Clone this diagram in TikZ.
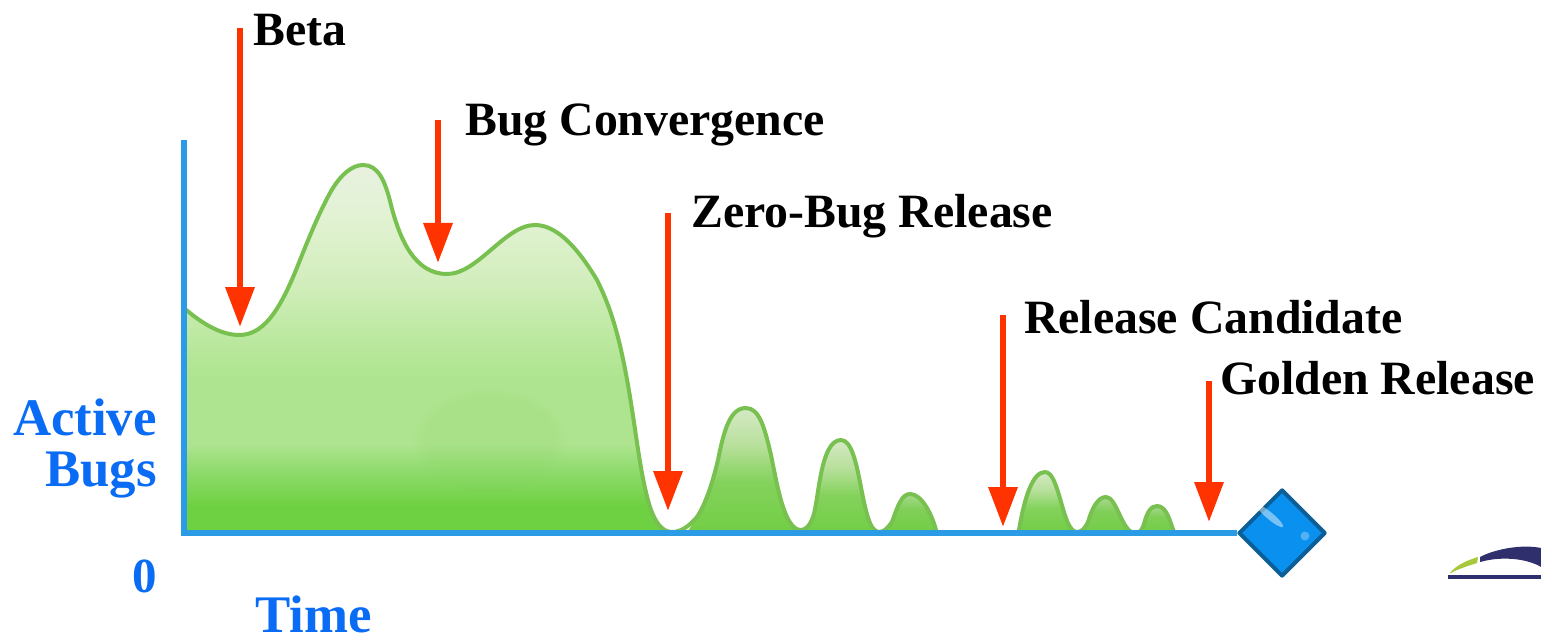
\documentclass[tikz,border=0pt]{standalone}
\usepackage{fontspec}
\setmainfont{Liberation Serif}
\usetikzlibrary{arrows.meta,shapes.geometric,fadings}
\definecolor{axisblue}{HTML}{2C9BE6}
\definecolor{labelblue}{HTML}{0A6CF5}
\definecolor{redarrow}{HTML}{FF3300}
\definecolor{curvegreen}{HTML}{78C050}
\definecolor{logonavy}{HTML}{2F2F6E}
\definecolor{logogreen}{HTML}{A8C83C}
\definecolor{diafill}{HTML}{0A90EE}
\definecolor{diaedge}{HTML}{0B5E96}
\definecolor{ma}{HTML}{6ED141}
\definecolor{mc}{HTML}{88D965}
\definecolor{me}{HTML}{AEE48F}
\definecolor{mf}{HTML}{BDE9A2}
\definecolor{mg}{HTML}{D4EEBF}
\definecolor{mh}{HTML}{E2F2D3}
\definecolor{mi}{HTML}{E8F1E0}
\definecolor{ha}{HTML}{72CE45}
\definecolor{hb}{HTML}{84D25C}
\definecolor{hc}{HTML}{B8E09C}
\definecolor{hd}{HTML}{D5E9C5}
\definecolor{le}{HTML}{80CF58}
\definecolor{lf}{HTML}{A8D890}
\definecolor{blob}{HTML}{8AD460}
\pgfdeclareverticalshading{mainshade}{100bp}{
  color(0bp)=(ma);color(25bp)=(ma);color(28.5bp)=(ma);color(32.5bp)=(mc);
  color(37bp)=(me);color(46bp)=(me);
  color(52bp)=(mf);color(60bp)=(mg);color(68bp)=(mh);color(75bp)=(mi);color(100bp)=(mi)}
\pgfdeclareverticalshading{hillshade}{100bp}{
  color(0bp)=(ha);color(25bp)=(ha);color(45bp)=(hb);
  color(60bp)=(hc);color(75bp)=(hd);color(100bp)=(hd)}
\pgfdeclareverticalshading{lowhill}{100bp}{
  color(0bp)=(ha);color(25bp)=(ha);color(55bp)=(le);
  color(75bp)=(lf);color(100bp)=(lf)}
\tikzset{
  blabel/.style={font=\fontsize{47.8}{50}\selectfont\bfseries,text=black,inner sep=0pt,anchor=base west},
  alabel/.style={font=\fontsize{52.8}{54}\selectfont\bfseries,text=labelblue,inner sep=0pt},
  marker/.style={draw=redarrow,line width=6.5pt,-{Triangle[width=28pt,length=40pt,color=redarrow]}},
  axisline/.style={draw=axisblue,line width=5.5pt,line join=miter},
  outline/.style={draw=curvegreen,line width=4pt,line cap=round,line join=round}
}
\newcommand\mainpart{(184,308) .. controls (200,322) and (220,335) .. (239,335)
  .. controls (262,335) and (278,314) .. (296,270)
  .. controls (308,240) and (318,215) .. (330,193)
  .. controls (340,175) and (352,165) .. (363,165)
  .. controls (378,165) and (385,180) .. (391,205)
  .. controls (400,240) and (415,274) .. (447,274)
  .. controls (478,274) and (505,225) .. (535,225)
  .. controls (560,225) and (582,255) .. (597,280)
  .. controls (612,310) and (620,340) .. (628,385)
  .. controls (636,430) and (640,475) .. (650,507)
  .. controls (655,522) and (662,532) .. (672,532)}
\newcommand\hillone{(697,517) .. controls (705,505) and (712,485) .. (718,460)
  .. controls (724,430) and (730,408) .. (746,408)
  .. controls (760,408) and (765,430) .. (771,455)
  .. controls (778,490) and (785,530) .. (801,530)}
\newcommand\hilltwo{(813,517) .. controls (819,500) and (820,440) .. (841,440)
  .. controls (862,440) and (860,532) .. (879,532)}
\newcommand\hillthree{(892,522) .. controls (898,505) and (902,494) .. (910,494)
  .. controls (922,494) and (932,515) .. (936,530)}
\newcommand\hillfour{(1019,530) .. controls (1024,500) and (1032,472) .. (1045,472)
  .. controls (1060,472) and (1062,532) .. (1077,532)}
\newcommand\hillfive{(1088,522) .. controls (1092,508) and (1098,497) .. (1106,497)
  .. controls (1117,497) and (1122,533) .. (1135,533)}
\newcommand\hillsix{(1144,524) .. controls (1147,512) and (1151,506) .. (1157,506)
  .. controls (1167,506) and (1170,522) .. (1174,532)}
\begin{document}
\begin{tikzpicture}[x=1pt,y=-1pt]
\useasboundingbox (0,0) rectangle (1541,636);
% areas
\path[shading=mainshade] \mainpart -- (184,532) -- cycle;
\fill[blob,opacity=0.16,path fading=circle with fuzzy edge 20 percent] (490,440) ellipse (78pt and 52pt);
\path[shading=hillshade] \hillone -- (688,531) -- cycle;
\path[shading=hillshade] \hilltwo -- (806,531) -- cycle;
\path[shading=lowhill] \hillthree -- (886,531) -- cycle;
\path[shading=hillshade] \hillfour -- cycle;
\path[shading=lowhill] \hillfive -- (1082,531) -- cycle;
\path[shading=lowhill] \hillsix -- (1141,531) -- cycle;
% curve
\draw[outline] \mainpart .. controls (682,532) and (690,525) .. (697,517);
\draw[outline] \hillone .. controls (806,530) and (810,525) .. (813,517);
\draw[outline] \hilltwo .. controls (885,532) and (888,527) .. (892,522);
\draw[outline] \hillthree;
\draw[outline] \hillfour .. controls (1082,532) and (1085,528) .. (1088,522);
\draw[outline] \hillfive .. controls (1140,533) and (1142,530) .. (1144,524);
\draw[outline] \hillsix;
% diamond and axes
\node[diamond,aspect=1,minimum width=87pt,minimum height=87pt,inner sep=0pt,draw=diaedge,line width=4pt,fill=diafill,line join=round] (goal) at (1282,533) {};
\coordinate (ytop) at (184,140);
\coordinate (origin) at (184,533);
\draw[axisline] (ytop) -- (origin) -- (goal.west);
\fill[white,opacity=0.45,rotate around={-40:(1270,516)}] (1270,516) ellipse (17pt and 3.5pt);
\fill[white,opacity=0.3] (1305,536) circle (4.5pt);
% labels
\node[blabel] (beta) at (253,46) {Beta};
\node[blabel] (conv) at (465,136) {Bug Convergence};
\node[blabel] (zero) at (691,228) {Zero-Bug Release};
\node[blabel] (cand) at (1024,333) {Release Candidate};
\node[blabel] (gold) at (1220,394) {Golden Release};
\node[alabel,anchor=base east] (active) at (157,435) {Active};
\node[alabel,anchor=base east] (bugs) at (157,486) {Bugs};
\node[alabel,anchor=base east,font=\fontsize{49}{50}\selectfont\bfseries] (zeroaxis) at (157,592) {0};
\node[alabel,anchor=base west] (time) at (255,632) {Time};
% arrows
\coordinate (a1) at (240,28);   \coordinate (b1) at (240,327);
\coordinate (a2) at (438,120);  \coordinate (b2) at (438,263);
\coordinate (a3) at (668,213);  \coordinate (b3) at (668,511);
\coordinate (a4) at (1003,315); \coordinate (b4) at (1003,527);
\coordinate (a5) at (1209,381); \coordinate (b5) at (1209,522);
\draw[marker] (a1) -- (b1);
\draw[marker] (a2) -- (b2);
\draw[marker] (a3) -- (b3);
\draw[marker] (a4) -- (b4);
\draw[marker] (a5) -- (b5);
% logo fragment
\fill[logonavy] (1480,557) .. controls (1495,549) and (1522,544) .. (1541,548) -- (1541,567) .. controls (1530,560) and (1505,555) .. (1480,562) -- cycle;
\fill[logogreen] (1450,573) .. controls (1456,565) and (1468,560) .. (1478,557) -- (1477,563) .. controls (1468,566) and (1458,569) .. (1451,573) -- cycle;
\fill[logonavy] (1448,575) rectangle (1541,578.5);
\end{tikzpicture}
\end{document}
